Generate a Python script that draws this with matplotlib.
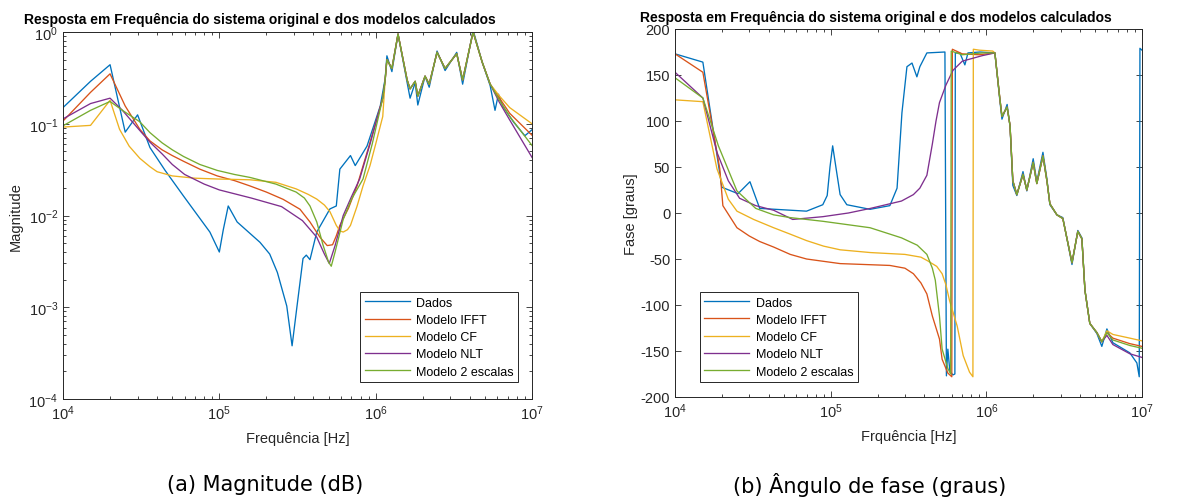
import matplotlib
matplotlib.use('Agg')
import matplotlib.pyplot as plt
from matplotlib.ticker import LogLocator, NullFormatter, FixedLocator

plt.rcParams['font.family'] = ['Liberation Sans', 'DejaVu Sans']
plt.rcParams['mathtext.fontset'] = 'custom'
plt.rcParams['mathtext.rm'] = 'Liberation Sans'
plt.rcParams['mathtext.it'] = 'Liberation Sans:italic'
plt.rcParams['mathtext.bf'] = 'Liberation Sans:bold'
plt.rcParams['axes.unicode_minus'] = False

series_labels = ['Dados', 'Modelo IFFT', 'Modelo CF', 'Modelo NLT', 'Modelo 2 escalas']
series_colors = ['#0072BD', '#D95319', '#EDB120', '#7E2F8E', '#77AC30']

title_text = 'Resposta em Frequência do sistema original e dos modelos calculados'
caption_a = '(a) Magnitude (dB)'
caption_b = '(b) Ângulo de fase (graus)'

# ---------------- Magnitude data ----------------
mag_dados_f = [1.0e4, 1.5e4, 2.0e4, 2.5e4, 3.0e4, 3.6e4, 4.5e4, 5.9e4, 8.7e4, 1.0e5, 1.06e5,
               1.14e5, 1.3e5, 1.82e5, 2.1e5, 2.35e5, 2.7e5, 2.92e5, 3.14e5, 3.43e5, 3.6e5, 3.8e5,
               4.2e5, 5.1e5, 5.6e5, 5.9e5, 6.9e5, 7.4e5, 8.8e5, 1.07e6, 1.15e6, 1.18e6,
               1.27e6, 1.39e6, 1.59e6, 1.66e6, 1.79e6, 1.86e6, 2.07e6, 2.2e6, 2.47e6, 2.78e6,
               3.3e6, 3.6e6, 4.2e6, 4.8e6, 5.4e6, 5.8e6, 6.1e6, 6.5e6, 7.6e6, 9.0e6, 1.0e7]
mag_dados = [0.15, 0.29, 0.44, 0.081, 0.125, 0.055, 0.031, 0.0163, 0.0066, 0.0040, 0.007,
             0.0127, 0.0085, 0.0051, 0.0038, 0.0024, 0.00103, 0.00038, 0.00103, 0.0034, 0.0037, 0.0033,
             0.0066, 0.0118, 0.0127, 0.032, 0.045, 0.035, 0.057, 0.156, 0.31, 0.55,
             0.37, 0.95, 0.28, 0.19, 0.28, 0.16, 0.33, 0.25, 0.62, 0.38,
             0.6, 0.27, 1.05, 0.47, 0.26, 0.14, 0.21, 0.156, 0.105, 0.074, 0.086]

mag_ifft_f = [1.0e4, 1.5e4, 2.0e4, 2.5e4, 3.1e4, 3.6e4, 4.3e4, 5.0e4, 5.9e4, 7.5e4, 9.7e4,
              1.25e5, 1.57e5, 2.0e5, 2.56e5, 3.28e5, 3.8e5, 4.4e5, 4.9e5, 5.3e5, 5.6e5,
              5.9e5, 6.7e5, 7.6e5, 9.0e5, 1.11e6]
mag_ifft = [0.107, 0.22, 0.35, 0.156, 0.087, 0.065, 0.052, 0.045, 0.039, 0.032, 0.027,
            0.024, 0.021, 0.018, 0.015, 0.0117, 0.0085, 0.0058, 0.0047, 0.0048, 0.006,
            0.0078, 0.012, 0.021, 0.055, 0.19]

mag_cf_f = [1.0e4, 1.5e4, 2.0e4, 2.3e4, 2.65e4, 3.1e4, 3.6e4, 4.0e4, 5.0e4, 7.0e4, 9.7e4,
            1.57e5, 2.3e5, 3.1e5, 3.7e5, 4.2e5, 4.7e5, 5.1e5, 5.6e5, 5.9e5, 6.2e5, 6.6e5,
            6.9e5, 7.6e5, 8.3e5, 9.2e5, 1.0e6, 1.11e6]
mag_cf = [0.092, 0.096, 0.18, 0.087, 0.057, 0.042, 0.034, 0.030, 0.027, 0.0255, 0.025,
          0.0245, 0.023, 0.0195, 0.017, 0.0151, 0.013, 0.011, 0.0078, 0.0068, 0.0066, 0.007,
          0.0078, 0.0126, 0.021, 0.035, 0.06, 0.12]

mag_nlt_f = [1.0e4, 1.5e4, 2.0e4, 2.4e4, 3.0e4, 3.6e4, 4.3e4, 5.0e4, 6.0e4, 8.0e4, 1.0e5,
             1.6e5, 2.5e5, 3.4e5, 4.2e5, 4.7e5, 5.05e5, 5.5e5, 6.2e5, 7.0e5, 7.9e5, 9.2e5, 1.11e6]
mag_nlt = [0.113, 0.166, 0.19, 0.14, 0.09, 0.063, 0.047, 0.036, 0.028, 0.022, 0.019,
           0.0155, 0.0125, 0.0088, 0.0058, 0.0038, 0.0030, 0.0047, 0.01, 0.016, 0.025, 0.06, 0.19]

mag_2esc_f = [1.0e4, 1.5e4, 2.0e4, 2.4e4, 3.1e4, 3.6e4, 4.3e4, 5.0e4, 5.9e4, 7.5e4, 9.7e4,
              1.25e5, 1.57e5, 2.3e5, 3.1e5, 3.5e5, 3.8e5, 4.2e5, 4.6e5, 5.0e5, 5.2e5, 5.5e5,
              6.2e5, 7.0e5, 8.3e5, 9.5e5, 1.11e6]
mag_2esc = [0.095, 0.14, 0.175, 0.14, 0.105, 0.08, 0.062, 0.052, 0.044, 0.036, 0.031,
            0.028, 0.026, 0.022, 0.018, 0.0155, 0.0127, 0.0085, 0.0048, 0.0031, 0.0028, 0.004,
            0.0091, 0.015, 0.025, 0.06, 0.19]

# shared high-frequency part of the models (magnitude)
mag_model_hf_f = [1.15e6, 1.18e6, 1.27e6, 1.39e6, 1.59e6, 1.66e6, 1.79e6, 1.86e6, 2.07e6,
                  2.2e6, 2.47e6, 2.78e6, 3.3e6, 3.6e6, 4.2e6, 4.8e6, 5.4e6]
mag_model_hf = [0.3, 0.5, 0.4, 0.95, 0.3, 0.24, 0.29, 0.2, 0.33,
                0.27, 0.6, 0.4, 0.58, 0.3, 1.0, 0.47, 0.27]
mag_tail_f = [6.2e6, 7.2e6, 1.0e7]
mag_ifft_tail = [0.19, 0.13, 0.075]
mag_cf_tail = [0.2, 0.15, 0.1]
mag_nlt_tail = [0.17, 0.11, 0.043]
mag_2esc_tail = [0.18, 0.12, 0.058]

# ---------------- Phase data ----------------
ph_dados_f = [1.0e4, 1.51e4, 2.0e4, 2.54e4, 3.03e4, 3.5e4, 7.0e4, 8.9e4, 9.5e4, 9.9e4,
              1.03e5, 1.08e5, 1.15e5, 1.27e5, 1.79e5, 2.4e5, 2.67e5, 2.87e5, 3.09e5, 3.33e5,
              3.58e5, 3.74e5, 4.15e5, 5.42e5, 5.54e5, 5.66e5, 5.83e5, 6.1e5, 6.28e5, 6.32e5,
              6.76e5, 7.28e5, 7.62e5, 9.1e5, 1.135e6, 1.22e6, 1.26e6, 1.36e6, 1.42e6, 1.48e6,
              1.57e6, 1.72e6, 1.82e6, 2.0e6, 2.11e6, 2.31e6, 2.45e6, 2.56e6, 2.84e6, 3.1e6,
              3.55e6, 3.87e6, 4.11e6, 4.3e6, 4.62e6, 5.13e6, 5.52e6, 5.95e6, 6.5e6, 8.35e6,
              9.27e6, 9.6e6, 9.7e6, 1.0e7]
ph_dados = [173, 164, 28, 21, 34, 5, 2, 9, 19, 50,
            73, 50, 20, 9, 4, 8, 27, 109, 159, 163,
            148, 159, 174, 175, -177, -148, -172, -176, -175, 174,
            174, 161, 174, 175, 174, 123, 102, 118, 94, 30,
            19, 45, 24, 59, 34, 66, 37, 9, -2, -5,
            -56, -19, -27, -84, -120, -131, -145, -126, -141, -152,
            -163, -178, 179, 177]

ph_ifft_f = [1.0e4, 1.51e4, 1.94e4, 2.03e4, 2.5e4, 3.0e4, 3.5e4, 4.3e4, 5.5e4, 7.0e4,
             1.15e5, 2.4e5, 3.0e5, 3.4e5, 3.8e5, 4.15e5, 4.5e5, 5.0e5, 5.2e5, 5.66e5,
             6.0e5, 6.05e5, 7.0e5, 9.0e5]
ph_ifft = [173, 153, 48, 8, -16, -25, -31, -37, -45, -50,
           -55, -57, -60, -66, -76, -88, -112, -137, -159, -174,
           -178, 178, 173, 172]

ph_cf_f = [1.0e4, 1.51e4, 1.86e4, 2.2e4, 2.5e4, 3.2e4, 4.3e4, 5.5e4, 7.0e4, 9.0e4,
           1.15e5, 1.8e5, 3.0e5, 3.8e5, 4.2e5, 4.8e5, 5.2e5, 5.5e5, 5.8e5, 6.5e5,
           7.1e5, 7.8e5, 8.2e5, 8.25e5, 9.0e5, 1.1e6]
ph_cf = [123, 121, 48, 15, 2, -7, -16, -23, -30, -36,
         -40, -43, -45, -48, -52, -58, -66, -78, -95, -123,
         -155, -173, -178, 178, 177, 176]

ph_nlt_f = [1.0e4, 1.51e4, 1.86e4, 2.2e4, 2.6e4, 3.3e4, 4.3e4, 5.7e4, 8.9e4, 1.3e5,
            1.8e5, 2.85e5, 3.4e5, 3.74e5, 4.15e5, 4.5e5, 4.75e5, 5.0e5, 5.5e5, 6.1e5,
            7.0e5, 9.4e5]
ph_nlt = [153, 125, 66, 35, 16, 8, 3, -7, -4, 0,
          5, 13, 20, 27, 41, 75, 100, 120, 139, 155,
          165, 171]

ph_2esc_f = [1.0e4, 1.51e4, 1.9e4, 2.5e4, 3.3e4, 4.3e4, 5.5e4, 8.9e4, 1.79e5, 2.85e5,
             3.6e5, 4.15e5, 4.5e5, 4.7e5, 5.0e5, 5.2e5, 5.66e5, 5.9e5, 5.95e5, 7.0e5, 9.5e5]
ph_2esc = [147, 125, 73, 24, 5, -2, -5, -9, -16, -27,
           -35, -45, -60, -73, -112, -148, -169, -175, 176, 172, 174]

# shared high-frequency part of the models (phase)
ph_model_hf_f = [1.135e6, 1.22e6, 1.26e6, 1.36e6, 1.42e6, 1.48e6, 1.57e6, 1.72e6, 1.82e6,
                 2.0e6, 2.11e6, 2.31e6, 2.45e6, 2.56e6, 2.84e6, 3.1e6, 3.55e6, 3.87e6,
                 4.11e6, 4.3e6, 4.62e6, 5.13e6, 5.52e6]
ph_model_hf = [174, 125, 105, 115, 95, 35, 20, 42, 25,
               55, 32, 62, 35, 10, -2, -6, -54, -20,
               -28, -84, -120, -130, -140]
ph_tail_f = [5.95e6, 6.5e6, 8.35e6, 1.0e7]
ph_ifft_tail = [-130, -136, -142, -145]
ph_cf_tail = [-128, -132, -136, -139]
ph_nlt_tail = [-133, -143, -153, -157]
ph_2esc_tail = [-130, -138, -144, -147]

mag_x_ticks = [1e4, 1e5, 1e6, 1e7]
mag_y_ticks = [1e-4, 1e-3, 1e-2, 1e-1, 1e0]
ph_y_ticks = [-200, -150, -100, -50, 0, 50, 100, 150, 200]

# ---------------- build series ----------------
mag_series = [
    (mag_dados_f, mag_dados),
    (mag_ifft_f + mag_model_hf_f + mag_tail_f, mag_ifft + mag_model_hf + mag_ifft_tail),
    (mag_cf_f + mag_model_hf_f + mag_tail_f, mag_cf + mag_model_hf + mag_cf_tail),
    (mag_nlt_f + mag_model_hf_f + mag_tail_f, mag_nlt + mag_model_hf + mag_nlt_tail),
    (mag_2esc_f + mag_model_hf_f + mag_tail_f, mag_2esc + mag_model_hf + mag_2esc_tail),
]
ph_series = [
    (ph_dados_f, ph_dados),
    (ph_ifft_f + ph_model_hf_f + ph_tail_f, ph_ifft + ph_model_hf + ph_ifft_tail),
    (ph_cf_f + ph_model_hf_f + ph_tail_f, ph_cf + ph_model_hf + ph_cf_tail),
    (ph_nlt_f + ph_model_hf_f + ph_tail_f, ph_nlt + ph_model_hf + ph_nlt_tail),
    (ph_2esc_f + ph_model_hf_f + ph_tail_f, ph_2esc + ph_model_hf + ph_2esc_tail),
]

W, H = 1185, 502
fig = plt.figure(figsize=(W / 100, H / 100), dpi=100)

axis_col = '#262626'

def px_rect(l, t, r, b):
    return [l / W, 1 - b / H, (r - l) / W, (b - t) / H]

ax1 = fig.add_axes(px_rect(63, 33, 532, 400))
ax2 = fig.add_axes(px_rect(675, 30, 1142, 398))

for (f, v), lab, col in zip(mag_series, series_labels, series_colors):
    ax1.plot(f, v, color=col, lw=0.95, label=lab)
for (f, v), lab, col in zip(ph_series, series_labels, series_colors):
    ax2.plot(f, v, color=col, lw=0.95, label=lab)

ax1.set_xscale('log')
ax1.set_yscale('log')
ax1.set_xlim(1e4, 1e7)
ax1.set_ylim(1e-4, 1e0)
ax1.xaxis.set_major_locator(FixedLocator(mag_x_ticks))
ax1.yaxis.set_major_locator(FixedLocator(mag_y_ticks))
ax1.yaxis.set_minor_locator(LogLocator(base=10, subs=range(2, 10)))
ax1.yaxis.set_minor_formatter(NullFormatter())

ax2.set_xscale('log')
ax2.set_xlim(1e4, 1e7)
ax2.set_ylim(-200, 200)
ax2.xaxis.set_major_locator(FixedLocator(mag_x_ticks))
ax2.yaxis.set_major_locator(FixedLocator(ph_y_ticks))

for ax in (ax1, ax2):
    ax.xaxis.set_minor_locator(LogLocator(base=10, subs=range(2, 10)))
    ax.xaxis.set_minor_formatter(NullFormatter())
    ax.tick_params(which='both', direction='in', top=True, right=True, colors=axis_col,
                   labelsize=10.5, width=0.6)
    ax.tick_params(which='major', length=4)
    ax.tick_params(which='minor', length=2)
    for s in ax.spines.values():
        s.set_color(axis_col)
        s.set_linewidth(0.7)

ax1.set_xlabel('Frequência [Hz]', fontsize=10.5, color=axis_col, labelpad=6)
ax1.set_ylabel('Magnitude', fontsize=10.5, color=axis_col, labelpad=4)
ax2.set_xlabel('Frquência [Hz]', fontsize=10.5, color=axis_col, labelpad=6)
ax2.set_ylabel('Fase [graus]', fontsize=10.5, color=axis_col, labelpad=2)

ax1.set_title(title_text, fontsize=10, fontweight='bold', x=0.42, pad=6.5)
ax2.set_title(title_text, fontsize=10, fontweight='bold', x=0.43, pad=5.5)

leg_kw = dict(fontsize=9, handlelength=3.6, labelspacing=0.42, borderpad=0.35,
              handletextpad=0.5, fancybox=False, framealpha=1, edgecolor=axis_col,
              borderaxespad=0)
l1 = ax1.legend(loc='lower right', bbox_to_anchor=(0.970, 0.046), **leg_kw)
l2 = ax2.legend(loc='lower left', bbox_to_anchor=(0.0535, 0.041), **leg_kw)
for lg in (l1, l2):
    lg.get_frame().set_linewidth(0.7)

fig.text(265 / W, 1 - 485 / H, caption_a, fontsize=15, ha='center', va='center',
         family=['DejaVu Sans'])
fig.text(870 / W, 1 - 485 / H, caption_b, fontsize=15, ha='center', va='center',
         family=['DejaVu Sans'])

fig.savefig('out.png', dpi=100)
